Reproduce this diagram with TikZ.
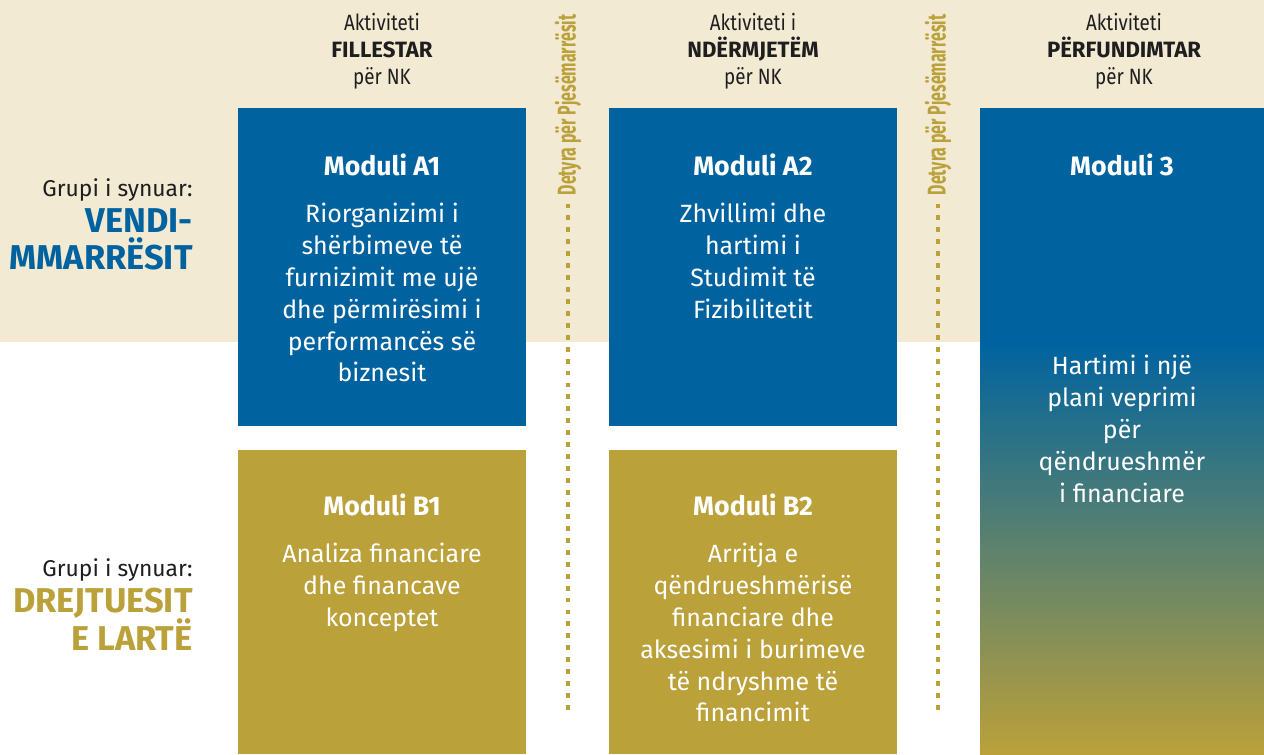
\documentclass[tikz,border=0pt]{standalone}
\usepackage{fontspec}
\setmainfont{Fira Sans}
\newfontfamily\narrowfont[FakeStretch=0.85]{Fira Sans}
\newfontfamily\taskfont[FakeStretch=0.62]{Fira Sans}
\usetikzlibrary{positioning}
\definecolor{nkblue}{HTML}{00639F}
\definecolor{nkgold}{HTML}{BBA13A}
\definecolor{nkmid}{HTML}{7E8274}
\definecolor{nkbeige}{HTML}{F3EAD4}
\definecolor{nkdark}{HTML}{1E1E1E}
\tikzset{modbox/.style={fill=#1, anchor=north west, inner sep=0, minimum width=5.76cm},
    modtitle/.style={white, font=\fontsize{15.2}{18}\selectfont\bfseries, inner sep=0},
    modtext/.style={white, font=\fontsize{14.2}{18.1}\selectfont, align=center, anchor=north, inner sep=0},
    header/.style={nkdark, font=\narrowfont\fontsize{12.6}{15.3}\selectfont, align=center, inner sep=0},
    grouplabel/.style={nkdark, font=\fontsize{13}{15}\selectfont, anchor=east, inner sep=0},
    groupname/.style={font=\bfseries\fontsize{19.6}{21.5}\selectfont, align=right, anchor=north east, inner sep=0},
    task/.style={nkgold, rotate=90, font=\taskfont\bfseries\fontsize{14.6}{16}\selectfont, inner sep=0},
    dots/.style={nkgold, line width=2.8pt, dash pattern=on 2.8pt off 4pt}}

\begin{document}
\begin{tikzpicture}[x=0.02cm, y=-0.02cm]
\fill[nkbeige] (0,0) rectangle (1264,342);
\useasboundingbox (0,0) rectangle (1264,754);
% headers
\node[header] (h1) at (382,51) {Aktiviteti\\{\normalfont\bfseries FILLESTAR}\\për NK};
\node[header] (h2) at (753,51) {Aktiviteti i\\{\normalfont\bfseries NDËRMJETËM}\\për NK};
\node[header] (h3) at (1124,51) {Aktiviteti\\{\normalfont\bfseries PËRFUNDIMTAR}\\për NK};
% target groups
\node[grouplabel] (g1) at (193,190) {Grupi i synuar:};
\node[groupname, nkblue] (g1n) at (193,208) {VENDI-\\MMARRËSIT};
\node[grouplabel] (g2) at (193,570) {Grupi i synuar:};
\node[groupname, nkgold] (g2n) at (193,588) {DREJTUESIT\\E LARTË};
% modules
\node[modbox=nkblue, minimum height=6.36cm] (a1) at (238,108) {};
\node[modbox=nkblue, minimum height=6.36cm] (a2) at (609,108) {};
\node[modbox=nkgold, minimum height=6.08cm] (b1) at (238,450) {};
\node[modbox=nkgold, minimum height=6.08cm] (b2) at (609,450) {};
\node[modbox=nkblue, minimum width=5.68cm, minimum height=12.92cm] (m3) at (980,108) {};
\shade[top color=nkblue, middle color=nkmid, bottom color=nkgold] (980,342) rectangle (m3.south east);
\node[modtitle] (a1t) at (382,165) {Moduli A1};
\node[modtitle] (a2t) at (753,165) {Moduli A2};
\node[modtitle] (b1t) at (382,505) {Moduli B1};
\node[modtitle] (b2t) at (753,505) {Moduli B2};
\node[modtitle] (m3t) at (1122,165) {Moduli 3};
\node[modtext] (a1x) at (382,203) {Riorganizimi i\\shërbimeve të\\furnizimit me ujë\\dhe përmirësimi i\\performancës së\\biznesit};
\node[modtext] (a2x) at (753,203) {Zhvillimi dhe\\hartimi i\\Studimit të\\Fizibilitetit};
\node[modtext] (b1x) at (382,543) {Analiza financiare\\dhe financave\\konceptet};
\node[modtext] (b2x) at (753,543) {Arritja e\\qëndrueshmërisë\\financiare dhe\\aksesimi i burimeve\\të ndryshme të\\financimit};
\node[modtext] (m3x) at (1122,355) {Hartimi i një\\plani veprimi\\për\\qëndrueshmër\\i financiare};
% tasks between activities
\node[task] (t1) at (568,105) {Detyra për Pjesëmarrësit};
\node[task] (t2) at (938,105) {Detyra për Pjesëmarrësit};
\coordinate (t1end) at (568,710);
\coordinate (t2end) at (938,710);
\draw[dots] (t1end) -- ([yshift=-5pt]t1.west);
\draw[dots] (t2end) -- ([yshift=-5pt]t2.west);
\end{tikzpicture}
\end{document}
